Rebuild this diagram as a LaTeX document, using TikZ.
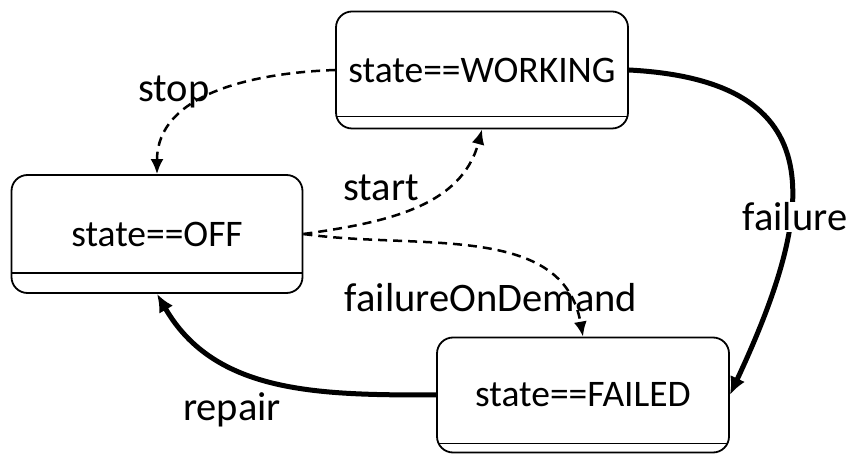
\documentclass[tikz,border=0pt]{standalone}
\usepackage{fontspec}
\setmainfont{Carlito}
\usetikzlibrary{arrows.meta}

\begin{document}
\begin{tikzpicture}[x=1pt, y=1pt,
    statebox/.style={draw, line width=1.8pt, rounded corners=16pt,
        minimum width=292pt, minimum height=117pt, inner sep=0pt,
        font=\fontsize{37.5}{40}\selectfont,
        path picture={\draw[line width=1.8pt]
            ([yshift=#1]path picture bounding box.south west) --
            ([yshift=#1]path picture bounding box.south east);}},
    soft/.style={line width=2.5pt, dash pattern=on 9pt off 6pt,
        -{Latex[length=15pt,width=13pt]}},
    hard/.style={line width=5pt, -{Latex[length=18pt,width=16pt]}},
    lbl/.style={font=\fontsize{40.5}{44}\selectfont, inner sep=1pt}]
    \useasboundingbox (0,0) rectangle (854,455);

    % states
    \node[statebox=12pt] (working) at (482,385) {state==WORKING};
    \node[statebox=20pt, minimum width=291pt, minimum height=118pt] (off) at (157,221) {state==OFF};
    \node[statebox=9pt, minimum height=115pt] (failed) at (583,60) {state==FAILED};

    % dashed ones
    \draw[soft] (working.west) to[out=182, in=90] (off.north);
    \draw[soft] (off.east) to[out=8, in=-105] (working.south);
    \draw[soft] (off.east) to[out=-8, in=100] (failed.north);
    \node[lbl] (stop) at (174,363) {stop};
    \node[lbl] (start) at (381,267) {start};
    \node[lbl] (fod) at (491,157) {failureOnDemand};

    % thick ones
    \draw[hard] (working.east) to[out=-3, in=65, looseness=1.55] (failed.east);
    \draw[hard] (failed.west) to[out=180, in=-60] (off.south);
    \node[lbl, fill=white] (failure) at (795,238) {failure};
    \node[lbl] (repair) at (232,45) {repair};
\end{tikzpicture}
\end{document}
